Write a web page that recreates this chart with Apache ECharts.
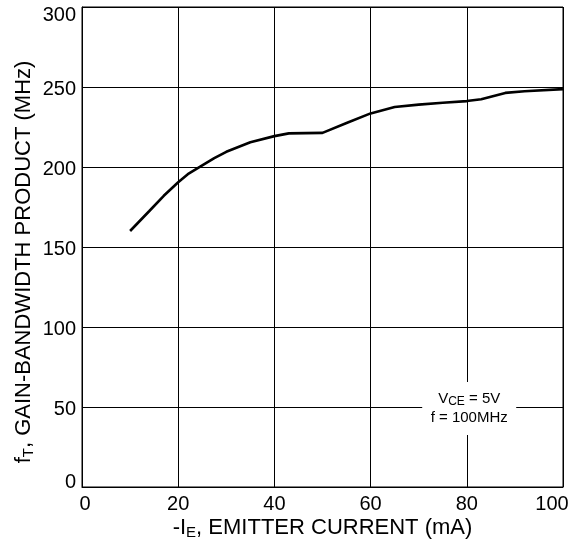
<!DOCTYPE html>
<html><head><meta charset="utf-8">
<script src="https://cdn.jsdelivr.net/npm/echarts@6/dist/echarts.min.js"></script>
<style>html,body{margin:0;padding:0;background:#fff}#c{width:583px;height:544px}</style>
</head><body><div id="c"></div>
<script>
const currentMA = [10, 14, 17, 20, 22, 25, 27.5, 30, 35, 40, 43, 50, 55, 60, 65, 70, 75, 80, 83, 88, 92, 100];
const ftMHz = [160, 172.5, 182, 190.5, 195.5, 201, 205.5, 209.5, 215.5, 219.3, 221, 221.3, 227.5, 233.5, 237.5, 239, 240.2, 241.2, 242.3, 246.3, 247.3, 248.7];
const xAxisTitle = ['-I', 'E', ', EMITTER CURRENT (mA)'];
const yAxisTitle = ['f', 'T', ', GAIN-BANDWIDTH PRODUCT (MHz)'];
const noteLines = ['V', 'CE', ' = 5V', 'f = 100MHz'];
const notePos = [80.5, 50];

const FONT = '"Liberation Sans", Arial, sans-serif';
const chart = echarts.init(document.getElementById('c'), null, {renderer: 'canvas'});
const pts = currentMA.map((x, i) => [x, ftMHz[i]]);
const richTitle = {
  a: {fontSize: 22, fontFamily: FONT, color: '#000'},
  s: {fontSize: 15, fontFamily: FONT, color: '#000', padding: [9, 0, 0, 0]}
};
const lbl = {fontSize: 20, fontFamily: FONT, color: '#000'};
chart.setOption({
  animation: false,
  backgroundColor: '#fff',
  grid: {left: 82, right: 20, top: 7, bottom: 57, show: true, borderColor: '#000', borderWidth: 1},
  xAxis: {
    type: 'value', min: 0, max: 100, interval: 20,
    axisLine: {show: true, lineStyle: {color: '#000', width: 1}},
    axisTick: {show: false},
    axisLabel: {
      color: '#000', fontSize: 20, fontFamily: FONT, margin: 7,
      formatter: v => v === 0 ? '{l|0}' : (v === 100 ? '{r|100}' : '{n|' + v + '}'),
      rich: {
        n: lbl,
        l: Object.assign({padding: [0, 0, 0, 6]}, lbl),
        r: Object.assign({padding: [0, 22, 0, 0]}, lbl)
      }
    },
    splitLine: {show: true, lineStyle: {color: '#000', width: 1}}
  },
  yAxis: {
    type: 'value', min: 0, max: 300, interval: 50,
    axisLine: {show: true, lineStyle: {color: '#000', width: 1}},
    axisTick: {show: false},
    axisLabel: {
      color: '#000', fontSize: 20, fontFamily: FONT, margin: 6,
      formatter: v => v === 0 ? '{b|0}' : (v === 300 ? '{t|300}' : '{n|' + v + '}'),
      rich: {
        n: Object.assign({padding: [4, 0, 0, 0]}, lbl),
        b: Object.assign({padding: [0, 0, 9, 0]}, lbl),
        t: Object.assign({padding: [17, 0, 0, 0]}, lbl)
      }
    },
    splitLine: {show: true, lineStyle: {color: '#000', width: 1}}
  },
  series: [{
    type: 'line', data: pts, showSymbol: false, smooth: false,
    lineStyle: {color: '#000', width: 2.6}, z: 5
  }]
});
const np = chart.convertToPixel({gridIndex: 0}, notePos);
const xMid = chart.convertToPixel({gridIndex: 0}, [50, 0])[0];
chart.setOption({
  graphic: [
    {
      type: 'text', x: xMid, y: 516,
      style: {
        text: '{a|' + xAxisTitle[0] + '}{s|' + xAxisTitle[1] + '}{a|' + xAxisTitle[2] + '}',
        rich: richTitle, align: 'center', verticalAlign: 'top'
      }
    },
    {
      type: 'text', x: 24, y: 262, rotation: Math.PI / 2,
      style: {
        text: '{a|' + yAxisTitle[0] + '}{s|' + yAxisTitle[1] + '}{a|' + yAxisTitle[2] + '}',
        rich: richTitle, align: 'center', verticalAlign: 'middle'
      }
    },
    {
      type: 'rect', x: np[0] - 47, y: np[1] - 25, z: 10,
      shape: {width: 94, height: 53},
      style: {fill: '#fff'}
    },
    {
      type: 'text', x: np[0], y: np[1] + 1, z: 11,
      style: {
        text: '{a|' + noteLines[0] + '}{s|' + noteLines[1] + '}{a|' + noteLines[2] + '}\n{a|' + noteLines[3] + '}',
        align: 'center', verticalAlign: 'middle',
        rich: {
          a: {fontSize: 15, fontFamily: FONT, color: '#000', lineHeight: 19},
          s: {fontSize: 12, fontFamily: FONT, color: '#000', padding: [6, 0, 0, 0], lineHeight: 19}
        }
      }
    }
  ]
});
</script>
</body></html>
